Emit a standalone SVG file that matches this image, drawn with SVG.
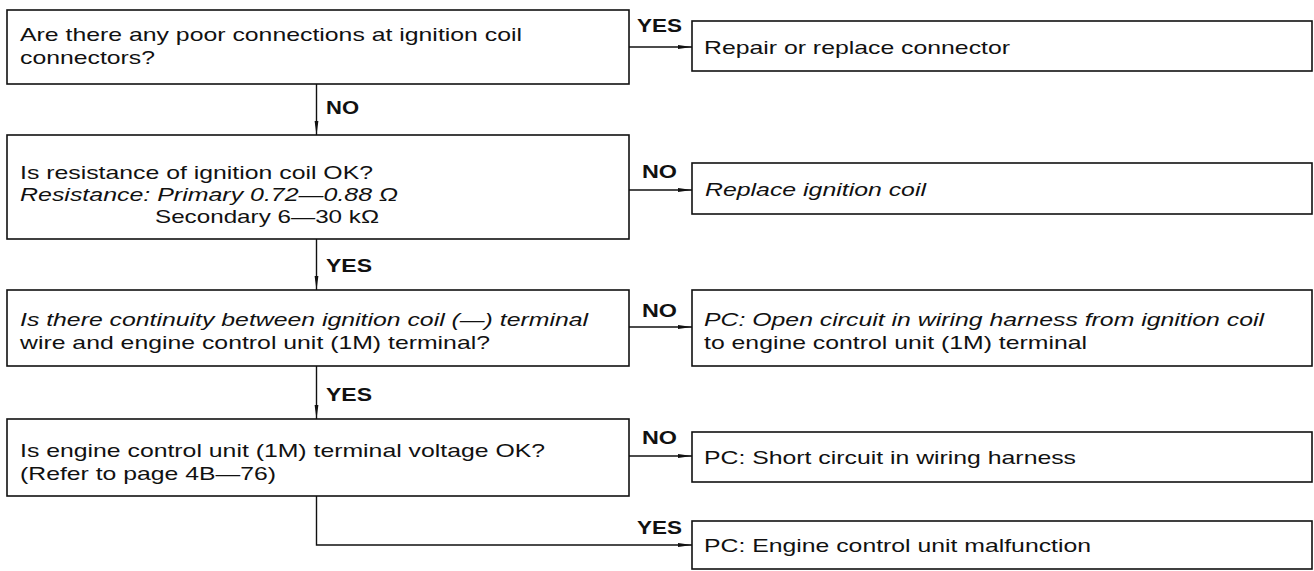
<svg xmlns="http://www.w3.org/2000/svg" width="1314" height="571" viewBox="0 0 1314 571">
<style>
.box{fill:#fff;stroke:#111;stroke-width:1.6}
.t{font-family:"Liberation Sans",Arial,sans-serif;font-size:19px;fill:#111}
.i{font-style:italic}
.lbl{font-family:"Liberation Sans",Arial,sans-serif;font-size:19px;font-weight:bold;fill:#111}
.c{fill:none;stroke:#111;stroke-width:1.4}
</style>
<defs>
<marker id="ah" viewBox="0 0 14 7" refX="14" refY="3.5" markerWidth="14" markerHeight="7" orient="auto" markerUnits="userSpaceOnUse">
<path d="M0,1.6 L14,3.5 L0,5.4 z" fill="#111"/>
</marker>
</defs>
<rect width="1314" height="571" fill="#fff"/>

<g id="connectors">
<path class="c" d="M629,47 H692" marker-end="url(#ah)"/>
<path class="c" d="M316.5,84 V135" marker-end="url(#ah)"/>
<path class="c" d="M629,190 H692" marker-end="url(#ah)"/>
<path class="c" d="M316.5,239 V290" marker-end="url(#ah)"/>
<path class="c" d="M629,327 H692" marker-end="url(#ah)"/>
<path class="c" d="M316.5,366 V419" marker-end="url(#ah)"/>
<path class="c" d="M629,456 H692" marker-end="url(#ah)"/>
<path class="c" d="M316.5,496 V545 H692" marker-end="url(#ah)"/>
<text class="lbl" x="637" y="32" textLength="45" lengthAdjust="spacingAndGlyphs">YES</text>
<text class="lbl" x="326" y="114" textLength="33" lengthAdjust="spacingAndGlyphs">NO</text>
<text class="lbl" x="642" y="178" textLength="35" lengthAdjust="spacingAndGlyphs">NO</text>
<text class="lbl" x="326" y="272" textLength="46" lengthAdjust="spacingAndGlyphs">YES</text>
<text class="lbl" x="642" y="317" textLength="35" lengthAdjust="spacingAndGlyphs">NO</text>
<text class="lbl" x="326" y="401" textLength="46" lengthAdjust="spacingAndGlyphs">YES</text>
<text class="lbl" x="642" y="444" textLength="35" lengthAdjust="spacingAndGlyphs">NO</text>
<text class="lbl" x="637" y="534" textLength="45" lengthAdjust="spacingAndGlyphs">YES</text>
</g>

<g id="q1">
<rect class="box" x="7" y="10" width="622" height="74"/>
<text class="t" x="20" y="41" textLength="502" lengthAdjust="spacingAndGlyphs">Are there any poor connections at ignition coil</text>
<text class="t" x="20" y="64" textLength="135" lengthAdjust="spacingAndGlyphs">connectors?</text>
</g>

<g id="q2">
<rect class="box" x="7" y="135" width="622" height="104"/>
<text class="t" x="20" y="179" textLength="353" lengthAdjust="spacingAndGlyphs">Is resistance of ignition coil OK?</text>
<text class="t i" x="20" y="201" textLength="378" lengthAdjust="spacingAndGlyphs">Resistance: Primary 0.72—0.88 Ω</text>
<text class="t" x="155" y="223" textLength="224" lengthAdjust="spacingAndGlyphs">Secondary 6—30 kΩ</text>
</g>

<g id="q3">
<rect class="box" x="7" y="290" width="622" height="76"/>
<text class="t i" x="20" y="326" textLength="568" lengthAdjust="spacingAndGlyphs">Is there continuity between ignition coil (—) terminal</text>
<text class="t" x="20" y="349" textLength="470" lengthAdjust="spacingAndGlyphs">wire and engine control unit (1M) terminal?</text>
</g>

<g id="q4">
<rect class="box" x="7" y="419" width="622" height="77"/>
<text class="t" x="20" y="457" textLength="525" lengthAdjust="spacingAndGlyphs">Is engine control unit (1M) terminal voltage OK?</text>
<text class="t" x="20" y="480" textLength="256" lengthAdjust="spacingAndGlyphs">(Refer to page 4B—76)</text>
</g>

<g id="r1">
<rect class="box" x="692" y="21" width="620" height="50"/>
<text class="t" x="704" y="54" textLength="306" lengthAdjust="spacingAndGlyphs">Repair or replace connector</text>
</g>

<g id="r2">
<rect class="box" x="692" y="163" width="620" height="51"/>
<text class="t i" x="705" y="196" textLength="221" lengthAdjust="spacingAndGlyphs">Replace ignition coil</text>
</g>

<g id="r3">
<rect class="box" x="692" y="290" width="620" height="76"/>
<text class="t i" x="704" y="326" textLength="560" lengthAdjust="spacingAndGlyphs">PC: Open circuit in wiring harness from ignition coil</text>
<text class="t" x="704" y="349" textLength="383" lengthAdjust="spacingAndGlyphs">to engine control unit (1M) terminal</text>
</g>

<g id="r4">
<rect class="box" x="692" y="432" width="620" height="50"/>
<text class="t" x="704" y="464" textLength="372" lengthAdjust="spacingAndGlyphs">PC: Short circuit in wiring harness</text>
</g>

<g id="r5">
<rect class="box" x="692" y="521" width="620" height="48"/>
<text class="t" x="704" y="552" textLength="387" lengthAdjust="spacingAndGlyphs">PC: Engine control unit malfunction</text>
</g>
</svg>
